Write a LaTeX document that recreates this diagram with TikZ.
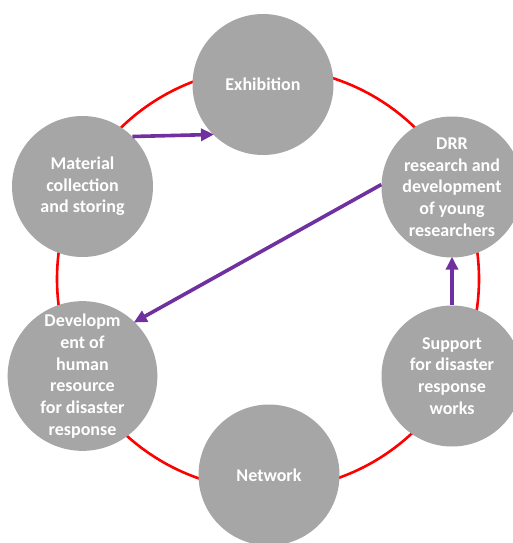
\documentclass[tikz,border=0pt]{standalone}
\usepackage{fontspec}
\setmainfont{Carlito}
\usetikzlibrary{arrows.meta}
\definecolor{ringred}{HTML}{FF0000}
\definecolor{arrowpurple}{HTML}{7030A0}
\definecolor{bubblegray}{HTML}{A6A6A6}
\tikzset{
  bubble/.style={circle, fill=bubblegray, minimum size=141pt, inner sep=0pt,
    align=center, text=white, font=\bfseries\fontsize{18}{21.7}\selectfont},
  flow/.style={draw=arrowpurple, line width=3.6pt,
    -{Triangle[length=13pt,width=12pt]}, shorten >=-1pt},
  ring/.style={draw=ringred, line width=2.6pt}
}
\begin{document}
\begin{tikzpicture}[x=1pt,y=-1pt]
\useasboundingbox (0,0) rectangle (512,543);
\fill[white] (0,0) rectangle (512,543);
\draw[ring] (268,279) circle (211pt);
\node[bubble] (exh) at (263,84.5) {Exhibition};
\node[bubble] (mat) at (82.5,186.5) {Material\\collection\\and storing};
\node[bubble] (drr) at (452,187) {DRR\\research and\\development\\of young\\researchers};
\node[bubble] (dev) at (82.5,376) {Developm\\ent of\\human\\resource\\for disaster\\response};
\node[bubble] (sup) at (452,376) {Support\\for disaster\\response\\works};
\node[bubble] (net) at (269,475) {Network};
\draw[flow] (mat.45) -- (exh.225);
\draw[flow] (drr.178) -- (dev.46);
\draw[flow] (sup.north) -- (drr.south);
\end{tikzpicture}
\end{document}
